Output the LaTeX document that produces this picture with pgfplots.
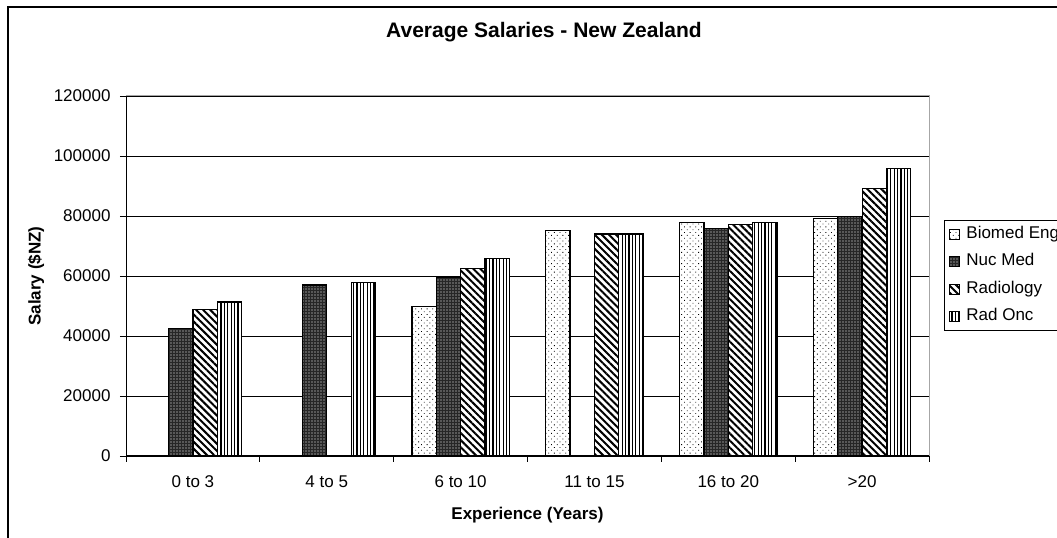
\documentclass[border=0pt]{standalone}
\usepackage{fontspec}
\setmainfont{Liberation Sans}
\usepackage{pgfplots}
\pgfplotsset{compat=1.18}
\usetikzlibrary{patterns.meta}

\newcommand{\tickfont}{\fontsize{17bp}{20bp}\selectfont}

\begin{document}
\begin{tikzpicture}
% outer chart frame (cut by the page edge on the right and bottom)
\draw[black, line width=1.6bp] (1200bp,531bp) -- (8bp,531bp) -- (8bp,-60bp);

\begin{axis}[
    at={(126bp,82bp)}, anchor=south west,
    scale only axis,
    width=803bp, height=360bp,
    xmin=-0.5, xmax=5.5,
    ymin=0, ymax=120000,
    ytick distance=20000,
    scaled y ticks=false,
    /pgf/number format/fixed,
    /pgf/number format/1000 sep={},
    /pgf/number format/assume math mode=true,
    xtick={0,...,5},
    xticklabels={0 to 3, 4 to 5, 6 to 10, 11 to 15, 16 to 20, >20},
    minor xtick={-0.5,0.5,...,5.5},
    major x tick style={draw=none},
    tick align=outside,
    major tick length=6bp,
    minor tick length=6bp,
    tick style={black, line width=0.8bp},
    xtick pos=bottom, ytick pos=left,
    ymajorgrids,
    grid style={black, line width=0.8bp},
    axis line style={gray!70, line width=1bp},
    ticklabel style={font=\tickfont},
    xticklabel style={yshift=-10bp},
    yticklabel style={xshift=-6bp},
    label style={font=\tickfont\bfseries},
    xlabel={Experience (Years)},
    ylabel={Salary (\$NZ)},
    xlabel style={at={(axis description cs:0.5,-0.164)}, anchor=center},
    ylabel style={at={(axis description cs:-0.112,0.5)}, anchor=center},
    title={Average Salaries - New Zealand},
    title style={at={(axis description cs:0.5205,1.161)}, anchor=center,
                 font=\fontsize{21bp}{24bp}\selectfont\bfseries},
    ybar, bar width=24.3bp,
    every axis plot/.append style={draw=black, line width=1.2bp},
    legend image code/.code={\draw[#1, line width=0.8bp] (0bp,-5bp) rectangle (10bp,5bp); \path (16bp,0bp);},
    legend style={
        at={(axis description cs:1.0187,0.6556)}, anchor=north west,
        draw=black, line width=0.8bp,
        font=\tickfont,
        inner xsep=5bp, inner ysep=6bp,
        row sep=12bp,
        nodes={inner sep=0pt, text height=12bp, text depth=3.5bp},
        cells={anchor=west},
    },
]
% Biomed Eng
\addplot[bar shift=-36.5bp, fill=white,
    postaction={pattern={Dots[distance=4bp, radius=0.6bp, angle=45]}, pattern color=black}]
    coordinates {(2,49800) (3,75200) (4,77900) (5,79200)};
% Nuc Med
\addplot[bar shift=-12.17bp, fill=black!85,
    postaction={pattern={Dots[distance=3bp, radius=0.6bp]}, pattern color=white}]
    coordinates {(0,42600) (1,57000) (2,59600) (4,75700) (5,79900)};
% Radiology
\addplot[bar shift=12.17bp, fill=white,
    postaction={pattern={Lines[angle=-45, distance=5bp, line width=2bp]}, pattern color=black}]
    coordinates {(0,48900) (2,62400) (3,74000) (4,77200) (5,89200)};
% Rad Onc
\addplot[bar shift=36.5bp, fill=white,
    postaction={pattern={Lines[angle=90, distance=3.4bp, line width=1.3bp]}, pattern color=black}]
    coordinates {(0,51300) (1,57900) (2,65900) (3,74000) (4,77900) (5,95900)};
\legend{Biomed Eng, Nuc Med, Radiology, Rad Onc}

% black left and bottom axis lines, gray top and right
\draw[black, line width=1bp] (axis cs:-0.5,120000) -- (axis cs:-0.5,0) -- (axis cs:5.5,0);
\end{axis}

\pgfresetboundingbox
\useasboundingbox (0,0) rectangle (1057bp,538bp);
\end{tikzpicture}
\end{document}
